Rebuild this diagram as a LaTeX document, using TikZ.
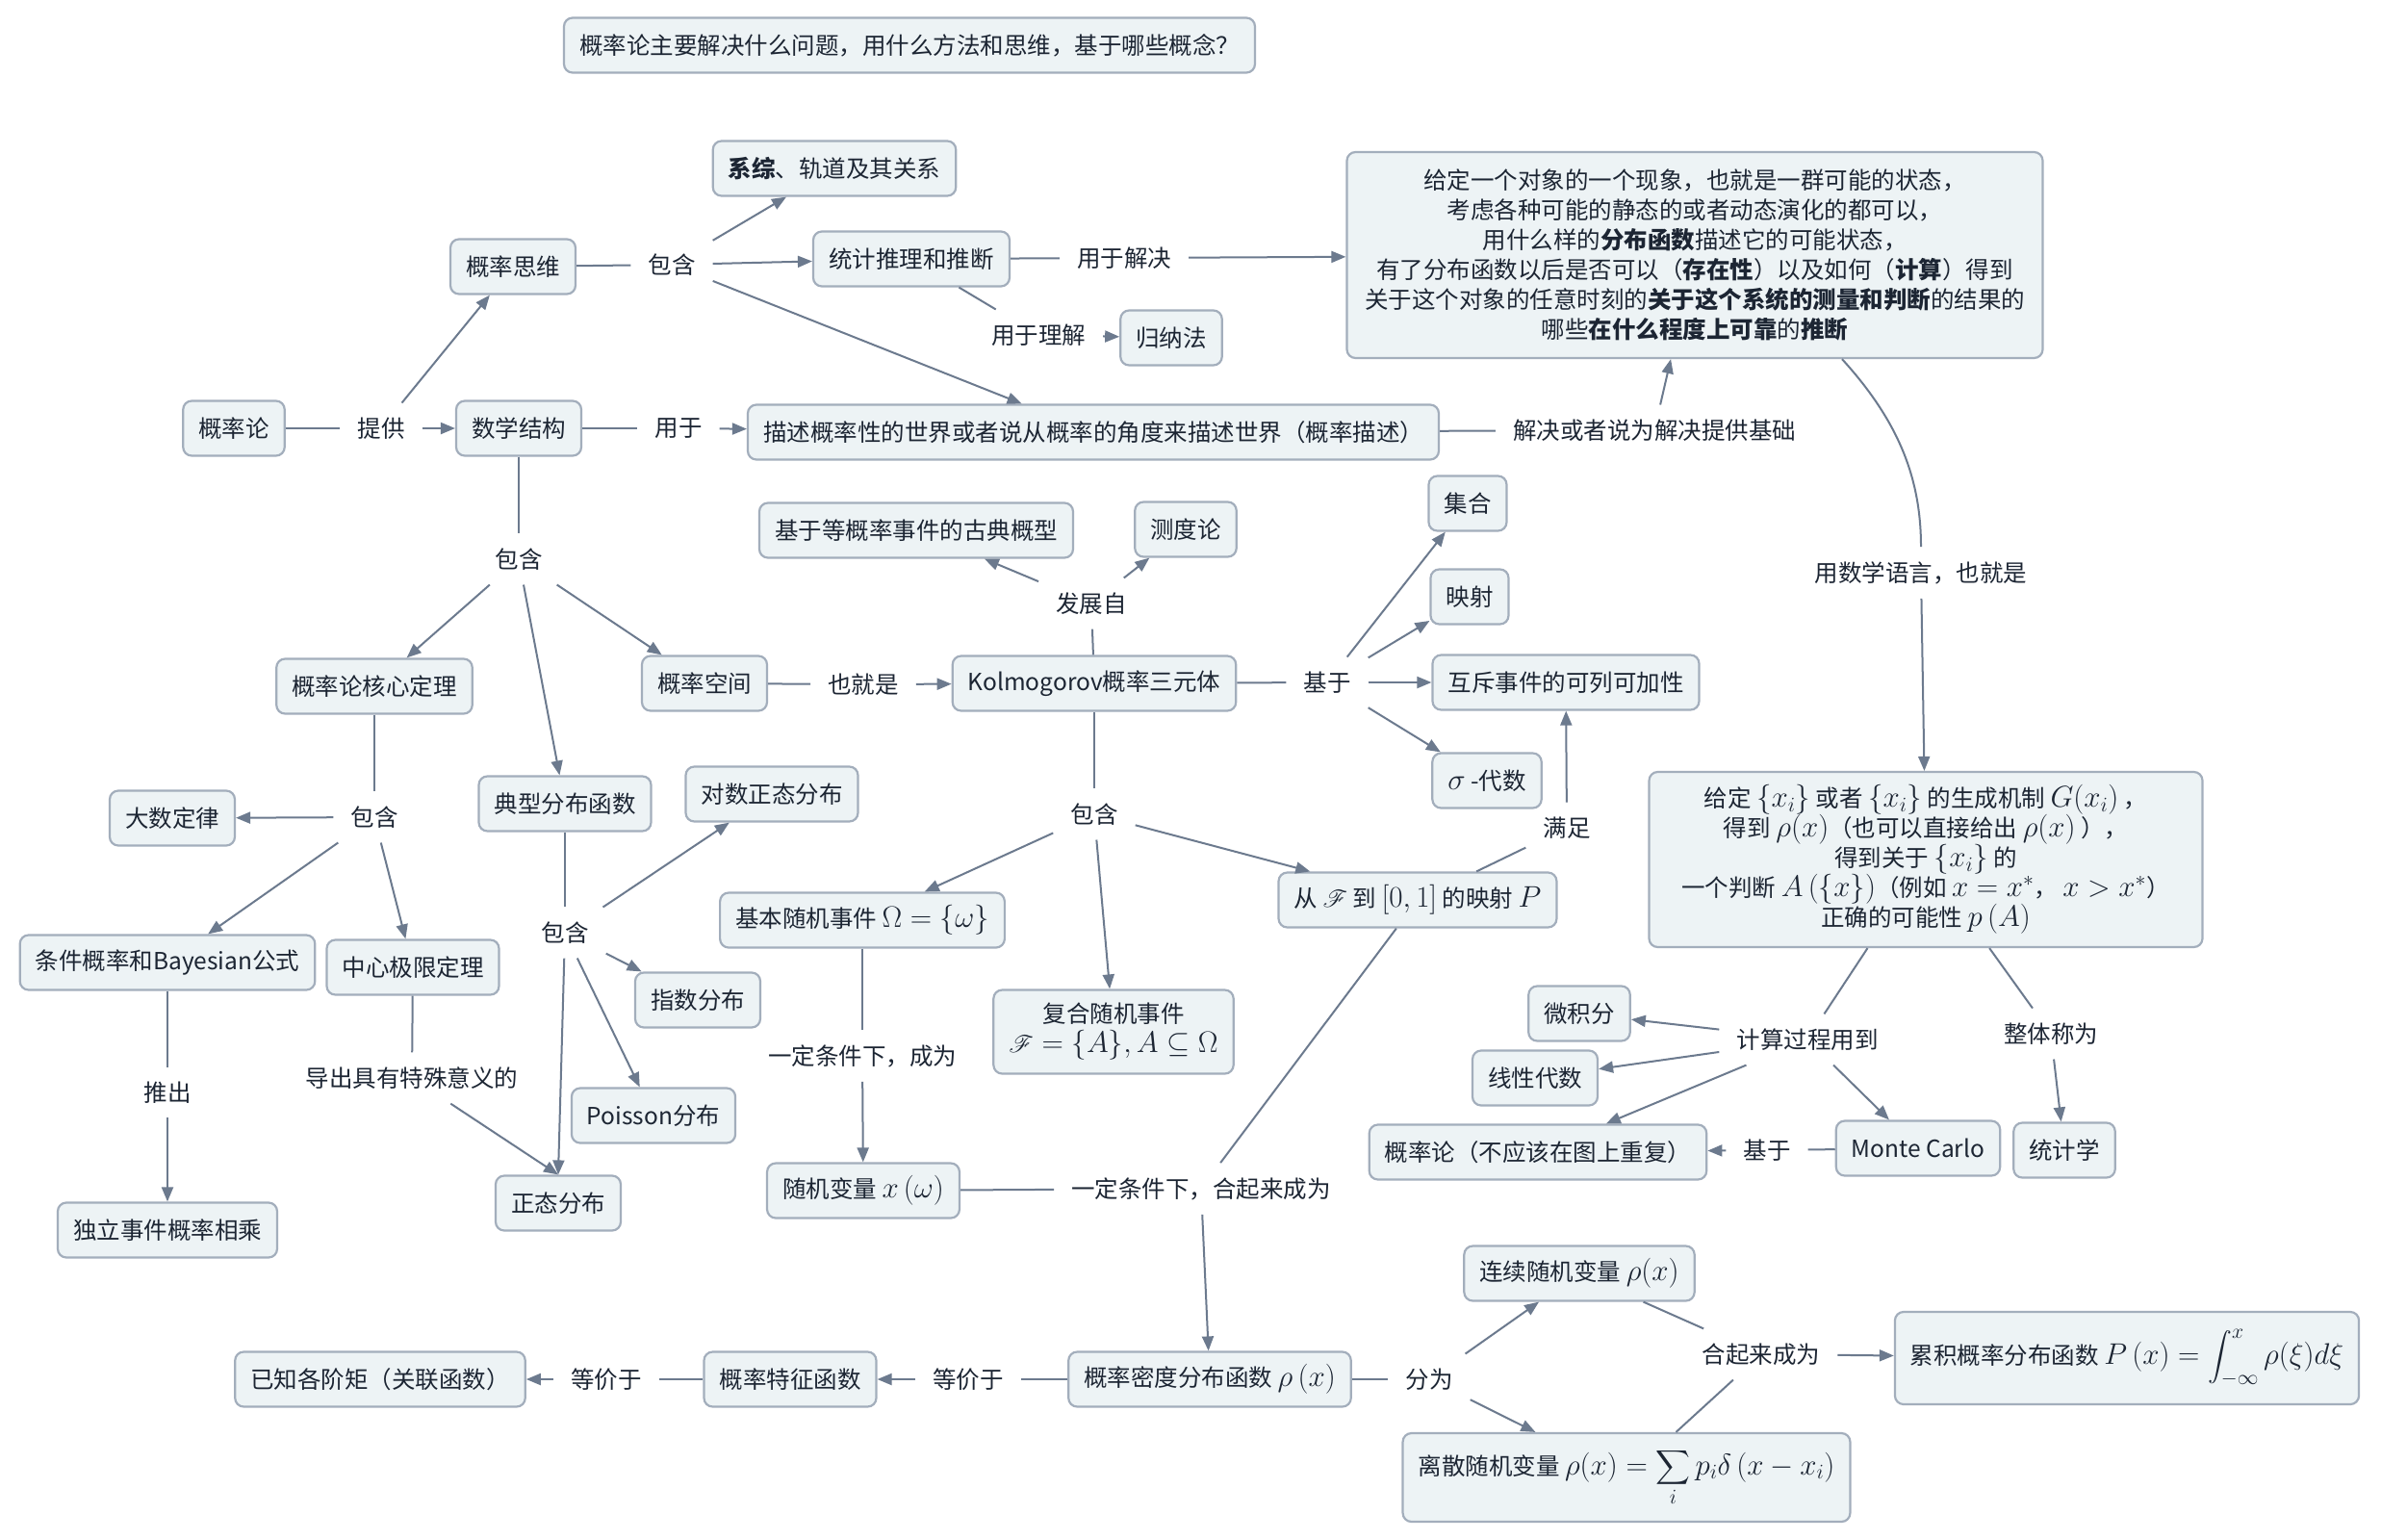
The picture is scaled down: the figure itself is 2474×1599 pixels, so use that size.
\RequirePackage{fix-cm}
\documentclass[tikz,border=0pt]{standalone}
\usepackage{amsmath}
\usepackage{mathrsfs}
\usepackage[no-math]{fontspec}
\setmainfont{Noto Sans CJK SC}
\usetikzlibrary{arrows.meta}
\definecolor{boxfill}{HTML}{EDF3F5}
\definecolor{boxline}{HTML}{A3AEBC}
\definecolor{edgecol}{HTML}{6C7A8E}
\definecolor{txtcol}{HTML}{1C2533}
\newcommand{\kmath}[1]{{\fontsize{31}{31}\selectfont$#1$}}
\tikzset{
  box/.style={draw=boxline,fill=boxfill,line width=2.2pt,rounded corners=9pt,
    inner xsep=16pt,inner ysep=10pt,minimum height=57pt,align=center},
  lbl/.style={inner xsep=18pt,inner ysep=15pt,align=center},
  conn/.style={draw=edgecol,line width=2pt},
  connarr/.style={conn,-{Triangle[length=15pt,width=12pt]}}
}
\begin{document}
\begin{tikzpicture}[x=1pt,y=-1pt,every node/.style={font=\fontsize{24.5}{31}\selectfont,text=txtcol}]
\fill[white](0,0) rectangle (2474,1599);
\useasboundingbox (0,0) rectangle (2474,1599);
%boxes
\node[box] (title) at(945,47){概率论主要解决什么问题，用什么方法和思维，基于哪些概念？};
\node[box] (xitong) at(867,175){\textbf{系综}、轨道及其关系};
\node[box] (siwei) at(533,277){概率思维};
\node[box,minimum width=204pt] (tuili) at(947,269){统计推理和推断};
\node[box] (guina) at(1217,351){归纳法};
\node[box] (gailvlun) at(243,445){概率论};
\node[box] (jiegou) at(539,445){数学结构};
\node[box] (miaoshu) at(1136,449){描述概率性的世界或者说从概率的角度来描述世界（概率描述）};
\node[box,minimum width=723pt,minimum height=214pt] (xianxiang) at(1761,265){给定一个对象的一个现象，也就是一群可能的状态，\\
  考虑各种可能的静态的或者动态演化的都可以，\\
  用什么样的\textbf{分布函数}描述它的可能状态，\\
  有了分布函数以后是否可以（\textbf{存在性}）以及如何（\textbf{计算}）得到\\
  关于这个对象的任意时刻的\textbf{关于这个系统的测量和判断}的结果的\\
  哪些\textbf{在什么程度上可靠}的\textbf{推断}};
\node[box] (gudian) at(952,551){基于等概率事件的古典概型};
\node[box] (cedu) at(1232,550){测度论};
\node[box] (jihe) at(1525,523){集合};
\node[box] (yingshe) at(1527,620){映射};
\node[box] (hexin) at(389,713){概率论核心定理};
\node[box] (kongjian) at(732,710){概率空间};
\node[box] (kolmo) at(1137,710){Kolmogorov概率三元体};
\node[box] (huchi) at(1627,709){互斥事件的可列可加性};
\node[box] (sigma) at(1545,811){\kmath{\sigma} -代数};
\node[box] (dianxing) at(587,835){典型分布函数};
\node[box] (duishu) at(802,825){对数正态分布};
\node[box] (dashu) at(179,850){大数定律};
\node[box] (jiben) at(896,956){基本随机事件 \kmath{\Omega=\{\omega\}}};
\node[box,minimum height=87pt] (fuhe) at(1157,1072){复合随机事件\\\kmath{\mathscr{F}=\{A\},A\subseteq\Omega}};
\node[box] (yingsheP) at(1473,935){从 \kmath{\mathscr{F}} 到 \kmath{\left[0,1\right]} 的映射 \kmath{P}};
\node[box,minimum width=575pt,minimum height=182pt] (panduan) at(2001,893){给定 \kmath{\{x_i\}} 或者 \kmath{\{x_i\}} 的生成机制 \kmath{G(x_i)} ，\\
  得到 \kmath{\rho(x)}（也可以直接给出 \kmath{\rho(x)} ），\\
  得到关于 \kmath{\{x_i\}} 的\\
  一个判断 \kmath{A\left(\{x\}\right)}（例如 \kmath{x=x^*}， \kmath{x>x^*}）\\
  正确的可能性 \kmath{p\left(A\right)}};
\node[box] (tiaojian) at(174,1000){条件概率和Bayesian公式};
\node[box] (zhongxin) at(429,1005){中心极限定理};
\node[box] (zhishu) at(725,1039){指数分布};
\node[box] (weiji) at(1641,1053){微积分};
\node[box] (xianxing) at(1595,1120){线性代数};
\node[box] (poisson) at(679,1159){Poisson分布};
\node[box] (suiji) at(897,1237){随机变量 \kmath{x\left(\omega\right)}};
\node[box] (chongfu) at(1598,1197){概率论（不应该在图上重复）};
\node[box] (monte) at(1993,1193){Monte Carlo};
\node[box] (tongji) at(2145,1195){统计学};
\node[box] (zhengtai) at(580,1250){正态分布};
\node[box] (duli) at(174,1278){独立事件概率相乘};
\node[box] (lianxu) at(1641,1323){连续随机变量 \kmath{\rho(x)}};
\node[box,minimum height=96pt] (leiji) at(2210,1411){累积概率分布函数 \kmath{P\left(x\right)=\displaystyle\int_{-\infty}^{x}\rho(\xi)d\xi}};
\node[box] (midu) at(1257,1433){概率密度分布函数 \kmath{\rho\left(x\right)}};
\node[box] (tezheng) at(821,1433){概率特征函数};
\node[box] (juzhen) at(395,1433){已知各阶矩（关联函数）};
\node[box,minimum height=92pt] (lisan) at(1690,1535){离散随机变量 \kmath{\rho(x)=\displaystyle\sum_i p_i\delta\left(x-x_i\right)}};
%labels
\node[lbl] (baohanA) at(698,275){包含};
\node[lbl] (jiejue) at(1168,268){用于解决};
\node[lbl] (lijie) at(1079,348){用于理解};
\node[lbl] (tigong) at(396,445){提供};
\node[lbl] (yongyu) at(705,445){用于};
\node[lbl] (jichu) at(1719,447){解决或者说为解决提供基础};
\node[lbl] (yuyan) at(1996,595){用数学语言，也就是};
\node[lbl] (baohanB) at(539,581){包含};
\node[lbl] (fazhan) at(1134,627){发展自};
\node[lbl] (yejiushi) at(897,711){也就是};
\node[lbl] (jiyuA) at(1379,709){基于};
\node[lbl] (baohanC) at(389,849){包含};
\node[lbl] (baohanD) at(1137,846){包含};
\node[lbl] (manzu) at(1628,860){满足};
\node[lbl] (baohanE) at(587,969){包含};
\node[lbl] (chengwei) at(896,1097){一定条件下，成为};
\node[lbl] (jisuan) at(1878,1080){计算过程用到};
\node[lbl] (zhengti) at(2131,1074){整体称为};
\node[lbl] (daochu) at(428,1120){导出具有特殊意义的};
\node[lbl] (tuichu) at(174,1135){推出};
\node[lbl] (jiyuB) at(1836,1195){基于};
\node[lbl] (heqi) at(1248,1235){一定条件下，合起来成为};
\node[lbl] (fenwei) at(1485,1433){分为};
\node[lbl] (heqiB) at(1830,1407){合起来成为};
\node[lbl] (dengjiaA) at(1006,1433){等价于};
\node[lbl] (dengjiaB) at(630,1433){等价于};
%thinking and structure
\draw[conn](gailvlun)--(tigong);
\draw[connarr](tigong)--(jiegou);
\draw[connarr](tigong)--(siwei);
\draw[conn](siwei)--(baohanA);
\draw[connarr](baohanA)--(xitong);
\draw[connarr](baohanA)--(tuili);
\draw[connarr](baohanA)--(miaoshu);
\draw[conn](tuili)--(jiejue);
\draw[connarr](jiejue)--(xianxiang);
\draw[conn](tuili)--(lijie);
\draw[connarr](lijie)--(guina);
\draw[conn](jiegou)--(yongyu);
\draw[connarr](yongyu)--(miaoshu);
\draw[conn](miaoshu)--(jichu);
\draw[connarr](jichu)--(xianxiang);
\draw[conn]([xshift=153pt]xianxiang.south) .. controls (1975,440) and (1996,500) .. (yuyan.north);
\draw[connarr](yuyan)--(panduan);
%probability space
\draw[conn](jiegou)--(baohanB);
\draw[connarr](baohanB)--(hexin);
\draw[connarr](baohanB)--(dianxing);
\draw[connarr](baohanB)--(kongjian);
\draw[conn](kongjian)--(yejiushi);
\draw[connarr](yejiushi)--(kolmo);
\draw[conn](kolmo)--(fazhan);
\draw[connarr](fazhan)--(gudian);
\draw[connarr](fazhan)--(cedu);
\draw[conn](kolmo)--(jiyuA);
\draw[connarr](jiyuA)--(jihe);
\draw[connarr](jiyuA)--(yingshe);
\draw[connarr](jiyuA)--(huchi);
\draw[connarr](jiyuA)--(sigma);
\draw[conn](kolmo)--(baohanD);
\draw[connarr](baohanD)--(jiben);
\draw[connarr](baohanD)--(fuhe);
\draw[connarr](baohanD)--(yingsheP);
\draw[conn](yingsheP)--(manzu);
\draw[connarr](manzu)--(huchi);
%theorems and distributions
\draw[conn](hexin)--(baohanC);
\draw[connarr](baohanC)--(dashu);
\draw[connarr](baohanC)--(tiaojian);
\draw[connarr](baohanC)--(zhongxin);
\draw[conn](tiaojian)--(tuichu);
\draw[connarr](tuichu)--(duli);
\draw[conn](zhongxin)--(daochu);
\draw[connarr](daochu)--(zhengtai.north);
\draw[conn](dianxing)--(baohanE);
\draw[connarr](baohanE)--(duishu);
\draw[connarr](baohanE)--(zhishu);
\draw[connarr](baohanE)--(poisson);
\draw[connarr](baohanE)--(zhengtai.north);
%random variables
\draw[conn](jiben)--(chengwei);
\draw[connarr](chengwei)--(suiji);
\draw[conn](suiji)--(heqi);
\draw[conn](yingsheP)--(heqi);
\draw[connarr](heqi)--(midu);
\draw[conn](midu)--(dengjiaA);
\draw[connarr](dengjiaA)--(tezheng);
\draw[conn](tezheng)--(dengjiaB);
\draw[connarr](dengjiaB)--(juzhen);
\draw[conn](midu)--(fenwei);
\draw[connarr](fenwei)--(lianxu);
\draw[connarr](fenwei)--(lisan);
\draw[conn](lianxu)--(heqiB);
\draw[conn](lisan)--(heqiB);
\draw[connarr](heqiB)--(leiji);
%judgement
\draw[conn](panduan)--(jisuan);
\draw[connarr](jisuan)--(weiji);
\draw[connarr](jisuan)--(xianxing);
\draw[connarr](jisuan)--(chongfu);
\draw[connarr](jisuan)--(monte);
\draw[conn](panduan)--(zhengti);
\draw[connarr](zhengti)--(tongji);
\draw[conn](monte)--(jiyuB);
\draw[connarr](jiyuB)--(chongfu);
\end{tikzpicture}
\end{document}
